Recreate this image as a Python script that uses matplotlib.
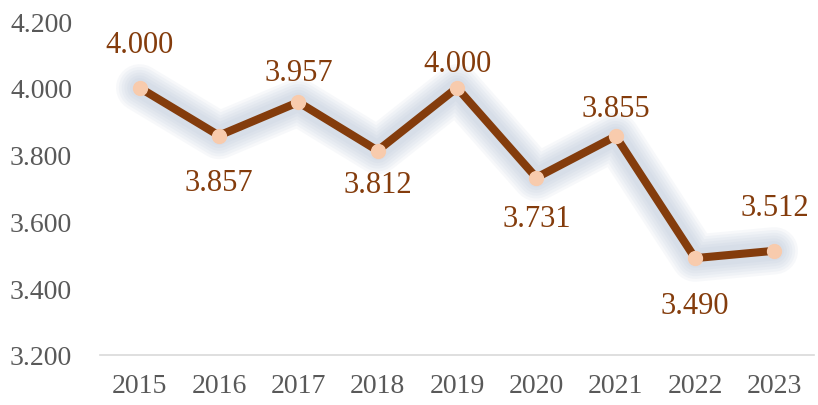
import matplotlib.pyplot as plt
import matplotlib.ticker as mticker

# data
years = ['2015', '2016', '2017', '2018', '2019', '2020', '2021', '2022', '2023']
values = [4000, 3857, 3957, 3812, 4000, 3731, 3855, 3490, 3512]

# label offsets from the point, in pixels (positive = above)
label_offset_px = [46, -44, 33, -31, 27, -38, 31, -44, 46]

line_color = '#843C0C'
marker_color = '#F8CBAD'
glow_color = '#A9B8CF'

plt.rcParams['font.family'] = ['Liberation Serif', 'DejaVu Serif']

fig = plt.figure(figsize=(8.18, 4.06), dpi=100)
ax = fig.add_axes([0.1222, 0.1232, 0.873, 0.8226])

x = range(len(years))

# soft glow under the line
for w in [34, 30, 26, 22, 18, 14]:
    ax.plot(x, values, color=glow_color, linewidth=w, alpha=0.09,
            solid_capstyle='round', solid_joinstyle='round', zorder=1)

ax.plot(x, values, color=line_color, linewidth=5.8, zorder=2,
        solid_joinstyle='miter')
ax.plot(x, values, linestyle='none', marker='o', markersize=10,
        markerfacecolor=marker_color, markeredgecolor=marker_color, zorder=3)

# va='center' sits a bit high for digits, so nudge down ~3px
for i, (v, off) in enumerate(zip(values, label_offset_px)):
    ax.annotate(f'{v:,}'.replace(',', '.'), (i, v), xytext=(0, (off - 3) * 0.72),
                textcoords='offset points', ha='center', va='center',
                fontsize=22, color=line_color)

ax.set_xlim(-0.5, len(years) - 0.5)
ax.set_ylim(3200, 4200)
ax.set_yticks(range(3200, 4201, 200))
ax.yaxis.set_major_formatter(mticker.FuncFormatter(lambda v, p: f'{int(v):,}'.replace(',', '.')))
ax.set_xticks(list(x))
ax.set_xticklabels(years)

for s in ['top', 'right', 'left']:
    ax.spines[s].set_visible(False)
ax.spines['bottom'].set_color('#D9D9D9')
ax.spines['bottom'].set_linewidth(1.2)
ax.tick_params(axis='both', length=0, labelsize=20, colors='#595959')
ax.tick_params(axis='y', pad=20)
ax.tick_params(axis='x', pad=13)

fig.savefig('out.png', dpi=100)
